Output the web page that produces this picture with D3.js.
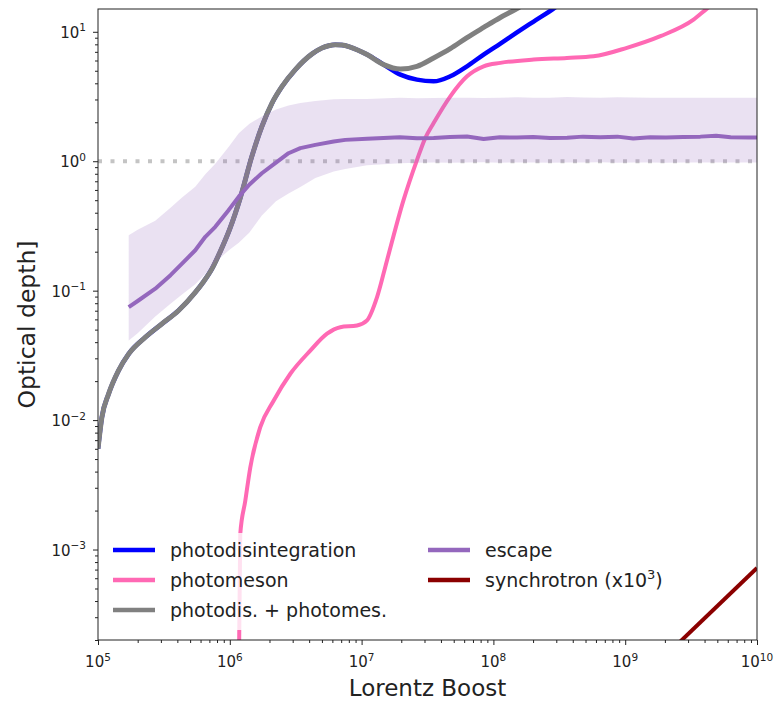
<!DOCTYPE html>
<html>
<head>
<meta charset="utf-8">
<script src="https://cdn.jsdelivr.net/npm/d3@7"></script>
<style>
  body { margin: 0; background: #fff; }
  svg { display: block; font-family: "DejaVu Sans", sans-serif; }
</style>
</head>
<body>
<svg id="chart" width="774" height="701"></svg>
<script>
// Optical depth of a nucleus versus Lorentz boost, per interaction process.

// photodisintegration: [Lorentz boost, optical depth]
const photodisintegration = [
  [1e5, 6.0e-3], [1.07e5, 1.05e-2], [1.20e5, 1.58e-2], [1.43e5, 2.41e-2],
  [1.71e5, 3.25e-2], [2.29e5, 4.37e-2], [3.06e5, 5.55e-2], [4.09e5, 7.03e-2],
  [5.47e5, 9.7e-2], [6.31e5, 0.117], [7.33e5, 0.148], [8.51e5, 0.203],
  [1.0e6, 0.300], [1.20e6, 0.52], [1.47e6, 1.09], [1.75e6, 1.85],
  [2.09e6, 2.81], [2.49e6, 3.78], [3.14e6, 5.10], [4.21e6, 6.75],
  [5.0e6, 7.5], [5.62e6, 7.8], [6.31e6, 7.94], [7.08e6, 7.9],
  [8.20e6, 7.62], [1.10e7, 6.67], [1.47e7, 5.58], [1.97e7, 4.67],
  [2.63e7, 4.27], [3.52e7, 4.14], [4.71e7, 4.53], [6.31e7, 5.41],
  [8.43e7, 6.67], [1.13e8, 8.11], [1.51e8, 9.89], [2.02e8, 12.0],
  [2.86e8, 15.1], [4.0e8, 19.5]
];

// photomeson production
const photomeson = [
  [1.17e6, 1.0e-4], [1.20e6, 1.31e-3], [1.31e6, 2.37e-3], [1.43e6, 4.30e-3],
  [1.70e6, 8.77e-3], [2.15e6, 1.41e-2], [2.88e6, 2.28e-2], [4.08e6, 3.44e-2],
  [5.47e6, 4.65e-2], [6.89e6, 5.22e-2], [9.23e6, 5.38e-2], [1.10e7, 5.89e-2],
  [1.31e7, 8.91e-2], [1.56e7, 0.172], [2.08e7, 0.50], [2.63e7, 1.02],
  [3.04e7, 1.51], [3.52e7, 1.97], [4.71e7, 3.17], [6.31e7, 4.53],
  [8.43e7, 5.41], [1.13e8, 5.75], [2.02e8, 6.10], [3.61e8, 6.28],
  [5.75e8, 6.46], [1.03e9, 7.52], [1.85e9, 9.25], [3.30e9, 12.4],
  [4.17e9, 15.1], [5.0e9, 17.4]
];

// photodisintegration + photomeson
const combined = [
  [1e5, 6.0e-3], [1.07e5, 1.05e-2], [1.20e5, 1.58e-2], [1.43e5, 2.41e-2],
  [1.71e5, 3.25e-2], [2.29e5, 4.37e-2], [3.06e5, 5.55e-2], [4.09e5, 7.03e-2],
  [5.47e5, 9.7e-2], [6.31e5, 0.117], [7.33e5, 0.148], [8.51e5, 0.203],
  [1.0e6, 0.300], [1.20e6, 0.52], [1.47e6, 1.09], [1.75e6, 1.85],
  [2.09e6, 2.81], [2.49e6, 3.78], [3.14e6, 5.10], [4.21e6, 6.75],
  [5.0e6, 7.5], [5.62e6, 7.8], [6.31e6, 7.94], [7.08e6, 7.9],
  [8.20e6, 7.62], [1.10e7, 6.67], [1.47e7, 5.58], [1.97e7, 5.16],
  [2.63e7, 5.41], [3.52e7, 6.28], [4.71e7, 7.41], [6.31e7, 9.02],
  [8.43e7, 10.8], [1.13e8, 12.9], [1.51e8, 15.1], [2.0e8, 18.2]
];

// escape: sampled boosts, median and spread
const escapeBoost = [
  1.71e5, 2.0e5, 2.72e5, 3.55e5, 4.34e5, 5.47e5, 6.52e5, 7.76e5, 9.79e5,
  1.17e6, 1.41e6, 1.75e6, 2.24e6, 2.79e6, 3.43e6, 4.46e6, 6.14e6, 7.52e6,
  1.10e7, 1.95e7, 2.63e7, 3.52e7, 4.68e7, 6.31e7, 8.43e7, 1.12e8, 1.51e8,
  2.0e8, 2.69e8, 3.63e8, 4.79e8, 6.46e8, 8.71e8, 1.15e9, 1.55e9, 2.04e9,
  2.75e9, 3.72e9, 4.90e9, 6.31e9, 8.71e9, 1e10
];
const escapeMedian = [
  0.0746, 0.0832, 0.1035, 0.1318, 0.1618, 0.2051, 0.2606, 0.3112, 0.4188,
  0.5321, 0.6607, 0.8072, 0.977, 1.153, 1.262, 1.337, 1.419, 1.462,
  1.489, 1.535, 1.507, 1.514, 1.542, 1.552, 1.483, 1.531, 1.524,
  1.542, 1.514, 1.521, 1.549, 1.531, 1.549, 1.500, 1.535, 1.528,
  1.542, 1.549, 1.574, 1.531, 1.528, 1.528
];
const escapeLow = [
  0.0412, 0.0468, 0.0631, 0.0794, 0.0933, 0.1122, 0.1349, 0.166, 0.2042,
  0.2344, 0.2818, 0.3802, 0.4898, 0.5623, 0.631, 0.7413, 0.8318, 0.871,
  0.933, 0.966, 0.972, 0.977, 0.975, 0.977, 0.980, 0.975, 0.977,
  0.979, 0.975, 0.977, 0.977, 0.980, 0.975, 0.977, 0.977, 0.975,
  0.977, 0.979, 0.977, 0.977, 0.977, 0.977
];
const escapeHigh = [
  0.2685, 0.2951, 0.3467, 0.4365, 0.5248, 0.6353, 0.7943, 0.955, 1.288,
  1.648, 1.95, 2.218, 2.512, 2.692, 2.818, 2.917, 3.006, 3.027,
  3.02, 3.09, 3.06, 3.08, 3.10, 3.09, 3.08, 3.09, 3.12,
  3.09, 3.10, 3.14, 3.11, 3.09, 3.12, 3.11, 3.09, 3.09,
  3.10, 3.09, 3.09, 3.09, 3.09, 3.09
];

// synchrotron (scaled by 10^3)
const synchrotron = [[1e9, 7.6e-5], [1e10, 7.2e-4]];

const xTickExponents = [5, 6, 7, 8, 9, 10];
const yTickExponents = [-3, -2, -1, 0, 1];

const legendItems = [
  { label: "photodisintegration", color: "#0000ff", col: 0, row: 0 },
  { label: "photomeson", color: "#ff69b4", col: 0, row: 1 },
  { label: "photodis. + photomes.", color: "#808080", col: 0, row: 2 },
  { label: "escape", color: "#9467bd", col: 1, row: 0 },
  { label: "synchrotron (x10", sup: "3", tail: ")", color: "#8b0000", col: 1, row: 1 }
];

const svg = d3.select("#chart");
const plot = { left: 98, right: 757, top: 9, bottom: 640 };

const x = d3.scaleLog().domain([1e5, 1e10]).range([plot.left, plot.right]);
const y = d3.scaleLog().domain([2e-4, 15]).range([plot.bottom, plot.top]);

svg.append("defs").append("clipPath").attr("id", "plot-clip")
  .append("rect")
  .attr("x", plot.left).attr("y", plot.top)
  .attr("width", plot.right - plot.left).attr("height", plot.bottom - plot.top);

const g = svg.append("g").attr("clip-path", "url(#plot-clip)");

// reference line at unit optical depth
g.append("line")
  .attr("x1", plot.left).attr("x2", plot.right)
  .attr("y1", y(1)).attr("y2", y(1))
  .attr("stroke", "#c4c4c4").attr("stroke-width", 4)
  .attr("stroke-dasharray", "4,8.5");

const smooth = d3.line().x(d => x(d[0])).y(d => y(d[1])).curve(d3.curveMonotoneX);

function drawSeries(data, color, width) {
  g.append("path").datum(data)
    .attr("fill", "none").attr("stroke", color)
    .attr("stroke-width", width).attr("stroke-linejoin", "round")
    .attr("d", smooth);
}

drawSeries(photodisintegration, "#0000ff", 4.5);
drawSeries(photomeson, "#ff69b4", 4);
drawSeries(combined, "#808080", 5);

// escape spread band
const band = escapeBoost.map((b, i) => ({ b, lo: escapeLow[i], hi: escapeHigh[i], m: escapeMedian[i] }));
g.append("path").datum(band)
  .attr("fill", "#9467bd").attr("fill-opacity", 0.2)
  .attr("d", d3.area().x(d => x(d.b)).y0(d => y(d.lo)).y1(d => y(d.hi)));
g.append("path").datum(band)
  .attr("fill", "none").attr("stroke", "#9467bd").attr("stroke-width", 4)
  .attr("stroke-linejoin", "round")
  .attr("d", d3.line().x(d => x(d.b)).y(d => y(d.m)));

g.append("path").datum(synchrotron)
  .attr("fill", "none").attr("stroke", "#8b0000").attr("stroke-width", 4)
  .attr("d", d3.line().x(d => x(d[0])).y(d => y(d[1])));

// axes
const isDecade = d => Math.abs(Math.log10(d) - Math.round(Math.log10(d))) < 1e-9;
const xAxis = d3.axisBottom(x).tickValues(
  d3.range(5, 10).flatMap(e => d3.range(1, 10).map(k => k * Math.pow(10, e))).concat([1e10])
).tickSizeOuter(0).tickFormat("");
const xg = svg.append("g").attr("transform", `translate(0,${plot.bottom})`).call(xAxis);
xg.selectAll(".tick line").attr("y2", d => isDecade(d) ? 5 : 3).attr("stroke", "#222");

const yMinor = [];
for (let e = -4; e <= 1; e++) for (let k = 1; k < 10; k++) {
  const v = k * Math.pow(10, e);
  if (v >= 2e-4 && v <= 15) yMinor.push(v);
}
const yAxis = d3.axisLeft(y).tickValues(yMinor).tickSizeOuter(0).tickFormat("");
const yg = svg.append("g").attr("transform", `translate(${plot.left},0)`).call(yAxis);
yg.selectAll(".tick line").attr("x2", d => isDecade(d) ? -5 : -3).attr("stroke", "#222");
svg.selectAll(".domain").remove();

// frame
svg.append("rect")
  .attr("x", plot.left).attr("y", plot.top)
  .attr("width", plot.right - plot.left).attr("height", plot.bottom - plot.top)
  .attr("fill", "none").attr("stroke", "#222").attr("stroke-width", 1);

function powerLabel(sel, exp) {
  sel.append("tspan").text("10");
  sel.append("tspan").attr("font-size", 10.5).attr("dy", -6.5)
    .text(exp < 0 ? "\u2212" + Math.abs(exp) : String(exp));
}

xTickExponents.forEach(e => {
  const t = svg.append("text")
    .attr("x", x(Math.pow(10, e))).attr("y", 667)
    .attr("text-anchor", "middle").attr("font-size", 15).attr("fill", "#222");
  powerLabel(t, e);
});
yTickExponents.forEach(e => {
  const t = svg.append("text")
    .attr("x", 86).attr("y", y(Math.pow(10, e)) + 6)
    .attr("text-anchor", "end").attr("font-size", 15).attr("fill", "#222");
  powerLabel(t, e);
});

svg.append("text")
  .attr("x", (plot.left + plot.right) / 2).attr("y", 696)
  .attr("text-anchor", "middle").attr("font-size", 23).attr("fill", "#222")
  .text("Lorentz Boost");
svg.append("text")
  .attr("transform", `translate(35,${(plot.top + plot.bottom) / 2}) rotate(-90)`)
  .attr("text-anchor", "middle").attr("font-size", 23.5).attr("fill", "#222")
  .text("Optical depth]");

// legend
const lg = svg.append("g");
lg.append("rect")
  .attr("x", 106).attr("y", 533).attr("width", 572).attr("height", 97)
  .attr("rx", 4).attr("fill", "#fff").attr("fill-opacity", 0.8);
const colX = [113, 428];
legendItems.forEach(it => {
  const cy = 550 + it.row * 30;
  const x0 = colX[it.col];
  lg.append("line").attr("x1", x0).attr("x2", x0 + 42).attr("y1", cy).attr("y2", cy)
    .attr("stroke", it.color).attr("stroke-width", 4.5);
  const t = lg.append("text").attr("x", x0 + 57).attr("y", cy + 7)
    .attr("font-size", 19).attr("fill", "#222");
  t.append("tspan").text(it.label);
  if (it.sup) {
    t.append("tspan").attr("font-size", 13).attr("dy", -8).text(it.sup);
    t.append("tspan").attr("dy", 8).text(it.tail);
  }
});
</script>
</body>
</html>
